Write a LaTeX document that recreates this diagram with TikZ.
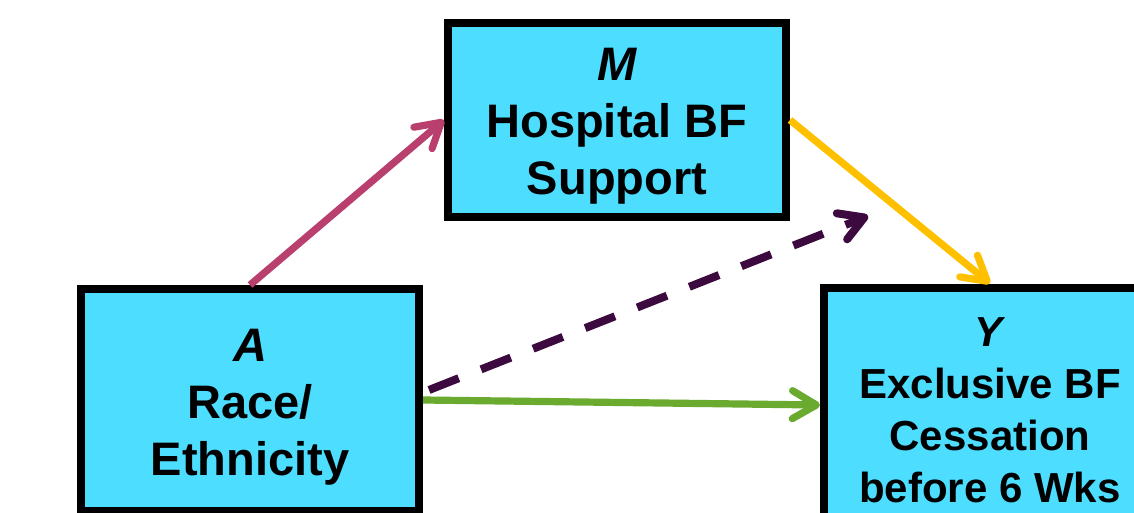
\documentclass[tikz,border=0pt]{standalone}
\usepackage{fontspec}
\setmainfont{Liberation Sans}
\usetikzlibrary{arrows.meta}

\definecolor{boxcyan}{RGB}{77,221,255}
\definecolor{pathred}{RGB}{185,64,110}
\definecolor{pathgold}{RGB}{255,192,0}
\definecolor{pathplum}{RGB}{61,10,64}
\definecolor{pathgreen}{RGB}{106,170,47}

\newcommand\firstrow[1]{\rule{0pt}{#1}}

\begin{document}
\begin{tikzpicture}[x=0.5pt,y=-0.5pt,
  varbox/.style={draw=black,line width=4pt,fill=boxcyan,align=center,
    font=\bfseries\fontsize{23.5}{28.5}\selectfont,inner sep=0pt},
  link/.style={line width=3.6pt,-{Straight Barb[length=12pt,width=14pt,round]}}]

%fix the page
\clip (0,0) rectangle (1134,513);

%draw the three variables
\node[varbox,minimum width=169pt,minimum height=96.75pt] (M) at (617,120)
  {\firstrow{22pt}\textit{M}\\Hospital BF\\Support};
\node[varbox,minimum width=169pt,minimum height=111pt] (A) at (250,400)
  {\firstrow{23pt}\textit{A}\\Race/\\Ethnicity};
\node[varbox,minimum width=166pt,minimum height=117.5pt,
  font=\bfseries\fontsize{21}{26}\selectfont] (Y) at (990,405)
  {\firstrow{20pt}\textit{Y}\\Exclusive BF\\Cessation\\before 6 Wks};

%draw paths through the mediator
\draw[link,pathred] (A.north) -- (M.west);
\draw[link,pathgold] (M.east) -- (Y.north);

%draw direct path
\draw[link,pathgreen] (A.east) -- (Y.west);

%draw dashed path
\coordinate (dashtip) at (868,216);
\draw[link,pathplum,line width=4pt,dash pattern=on 16pt off 12pt]
  ([xshift=3pt,yshift=5pt]A.east) -- (dashtip);

\end{tikzpicture}
\end{document}
